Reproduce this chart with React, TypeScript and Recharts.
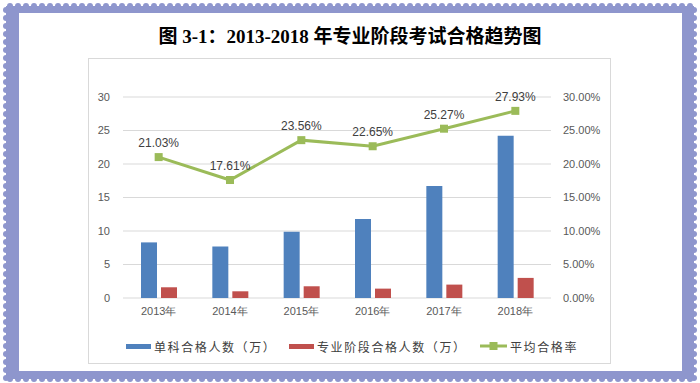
import React from 'react';
import { ComposedChart, Bar, Line, XAxis, YAxis, CartesianGrid, LabelList } from 'recharts';

const categories = ['2013年', '2014年', '2015年', '2016年', '2017年', '2018年'];
const singlePass = [8.3, 7.7, 9.9, 11.8, 16.7, 24.2];
const proPass = [1.6, 1.0, 1.75, 1.4, 2.0, 3.0];
const passRate = [21.03, 17.61, 23.56, 22.65, 25.27, 27.93];
const leftTicks = [0, 5, 10, 15, 20, 25, 30];
const rightTicks = [0, 5, 10, 15, 20, 25, 30];
const seriesNames = ['单科合格人数（万）', '专业阶段合格人数（万）', '平均合格率'];
const title = '图 3-1：2013-2018 年专业阶段考试合格趋势图';

const BLUE = '#4F81BD';
const RED = '#C0504D';
const GREEN = '#9BBB59';
const PURPLE = '#8E96CD';

const data = categories.map((c, i) => ({
  name: c,
  single: singlePass[i],
  pro: proPass[i],
  rate: passRate[i],
}));

const SquareDot = (props: any) => {
  const { cx, cy } = props;
  if (cx == null || cy == null) return null;
  return <rect x={cx - 4} y={cy - 4} width={8} height={8} fill={GREEN} />;
};

function StampBorder() {
  const bumps: React.ReactNode[] = [];
  const r = 3;
  const left = 6, right = 694, top = 6, bottom = 379;
  for (let x = left + 4; x <= right; x += 8) {
    bumps.push(<circle key={'t' + x} cx={x} cy={top} r={r} fill={PURPLE} />);
    bumps.push(<circle key={'b' + x} cx={x} cy={bottom} r={r} fill={PURPLE} />);
  }
  for (let y = top + 4; y <= bottom; y += 8) {
    bumps.push(<circle key={'l' + y} cx={left} cy={y} r={r} fill={PURPLE} />);
    bumps.push(<circle key={'r' + y} cx={right} cy={y} r={r} fill={PURPLE} />);
  }
  return (
    <svg width={700} height={383} style={{ position: 'absolute', left: 0, top: 0 }}>
      <rect x={0} y={0} width={700} height={383} fill="#FFFFFF" />
      <rect x={left} y={top} width={right - left} height={bottom - top} fill={PURPLE} />
      {bumps}
      <rect x={19} y={13} width={663} height={358} fill="#FFFFFF" />
      <rect x={88.5} y={58.5} width={522} height={305} fill="#FFFFFF" stroke="#D9D9D9" strokeWidth={1} />
    </svg>
  );
}

const legendText: React.CSSProperties = {
  fontFamily: '"Noto Sans CJK SC", sans-serif',
  fontSize: 12,
  color: '#404040',
  letterSpacing: 1.6,
  whiteSpace: 'nowrap',
};

export default function App() {
  const tickStyle = { fontFamily: '"Liberation Sans", Arial, sans-serif', fontSize: 11, fill: '#595959' };
  return (
    <div style={{ position: 'absolute', left: 0, top: 0, width: 700, height: 383, overflow: 'hidden' }}>
      <StampBorder />
      <div
        style={{
          position: 'absolute',
          left: 0,
          top: 24,
          width: 700,
          textAlign: 'center',
          fontFamily: '"Liberation Serif", "Noto Sans CJK SC", serif',
          fontWeight: 'bold',
          fontSize: 19,
          color: '#000',
          lineHeight: '26px',
          whiteSpace: 'nowrap',
        }}
      >
        {title}
      </div>
      <div style={{ position: 'absolute', left: 0, top: 0 }}>
        <ComposedChart
          width={700}
          height={383}
          data={data}
          margin={{ top: 97, right: 0, bottom: 55, left: 0 }}
          barSize={16}
          barGap={4}
        >
          <CartesianGrid vertical={false} stroke="#D9D9D9" yAxisId="left" />
          <XAxis
            dataKey="name"
            axisLine={false}
            tickLine={false}
            tickSize={0}
            tickMargin={9}
            height={30}
            tick={tickStyle}
            interval={0}
          />
          <YAxis
            yAxisId="left"
            orientation="left"
            width={123}
            domain={[0, 30]}
            ticks={leftTicks}
            axisLine={false}
            tickLine={false}
            tickSize={0}
            tickMargin={13}
            tick={tickStyle}
          />
          <YAxis
            yAxisId="right"
            orientation="right"
            width={149}
            domain={[0, 30]}
            ticks={rightTicks}
            axisLine={false}
            tickLine={false}
            tickSize={0}
            tickMargin={12}
            tick={{ ...tickStyle, textAnchor: 'start' }}
            tickFormatter={(v: number) => v.toFixed(2) + '%'}
          />
          <Bar yAxisId="left" dataKey="single" name={seriesNames[0]} fill={BLUE} isAnimationActive={false} />
          <Bar yAxisId="left" dataKey="pro" name={seriesNames[1]} fill={RED} isAnimationActive={false} />
          <Line
            yAxisId="right"
            type="linear"
            dataKey="rate"
            name={seriesNames[2]}
            stroke={GREEN}
            strokeWidth={3}
            dot={<SquareDot />}
            activeDot={false}
            isAnimationActive={false}
          >
            <LabelList
              dataKey="rate"
              position="top"
              offset={10}
              formatter={(v: number) => v.toFixed(2) + '%'}
              style={{ fontFamily: '"Liberation Sans", Arial, sans-serif', fontSize: 12, fill: '#404040' }}
            />
          </Line>
        </ComposedChart>
      </div>
      <div style={{ position: 'absolute', left: 126, top: 338, height: 16, display: 'flex', alignItems: 'center' }}>
        <div style={{ width: 25, height: 5, background: BLUE, marginRight: 3 }} />
        <span style={legendText}>{seriesNames[0]}</span>
      </div>
      <div style={{ position: 'absolute', left: 289, top: 338, height: 16, display: 'flex', alignItems: 'center' }}>
        <div style={{ width: 25, height: 5, background: RED, marginRight: 3 }} />
        <span style={legendText}>{seriesNames[1]}</span>
      </div>
      <div style={{ position: 'absolute', left: 480, top: 338, height: 16, display: 'flex', alignItems: 'center' }}>
        <svg width={27} height={10} style={{ marginRight: 3 }}>
          <line x1={0} y1={5} x2={27} y2={5} stroke={GREEN} strokeWidth={3} />
          <rect x={9.5} y={1} width={8} height={8} fill={GREEN} />
        </svg>
        <span style={legendText}>{seriesNames[2]}</span>
      </div>
    </div>
  );
}
